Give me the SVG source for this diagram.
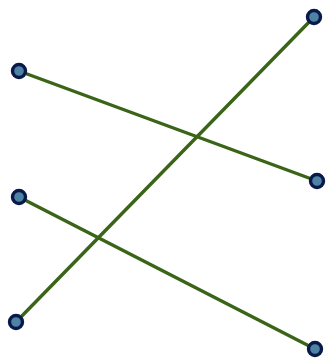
<svg xmlns="http://www.w3.org/2000/svg" width="328" height="361" viewBox="0 0 328 361">
<style>
.edge{stroke:#3a6418;stroke-width:3.4;stroke-linecap:round;fill:none}
.node{fill:#4f83a6;stroke:#0a1a48;stroke-width:3.4}
</style>
<rect width="328" height="361" fill="#ffffff"/>
<g id="connectors">
<line class="edge" x1="19" y1="71" x2="317" y2="181"/>
<line class="edge" x1="19" y1="197" x2="315" y2="349"/>
<line class="edge" x1="16" y1="322" x2="314" y2="17"/>
</g>
<g id="n1"><circle class="node" cx="19" cy="71" r="6.5"/></g>
<g id="n2"><circle class="node" cx="314" cy="17" r="6.5"/></g>
<g id="n3"><circle class="node" cx="317" cy="181" r="6.5"/></g>
<g id="n4"><circle class="node" cx="19" cy="197" r="6.5"/></g>
<g id="n5"><circle class="node" cx="16" cy="322" r="6.5"/></g>
<g id="n6"><circle class="node" cx="315" cy="349" r="6.5"/></g>
</svg>
